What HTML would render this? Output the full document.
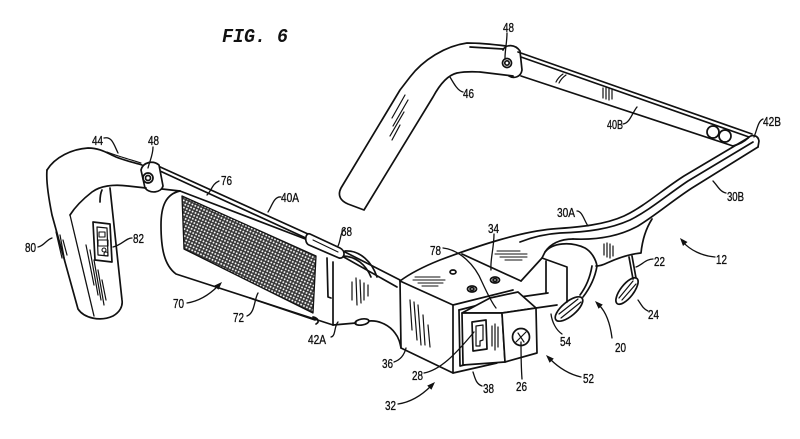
<!DOCTYPE html>
<html><head><meta charset="utf-8"><style>
html,body{margin:0;padding:0;background:#fff;}
svg{display:block}
text{font-family:"Liberation Sans",sans-serif;font-size:13px;fill:#111;stroke:#111;stroke-width:0.35;}
</style></head><body>
<svg width="800" height="439" viewBox="0 0 800 439" xmlns="http://www.w3.org/2000/svg">
<defs>
<pattern id="mesh" width="3.2" height="3.2" patternUnits="userSpaceOnUse" patternTransform="rotate(25)">
<rect width="3.2" height="3.2" fill="#333"/>
<rect x="0.75" y="0.75" width="1.7" height="1.7" fill="#fff"/>
</pattern>
</defs>
<rect width="800" height="439" fill="#fff"/>

<text x="222" y="42" style="font-family:'Liberation Mono',monospace;font-style:italic;font-weight:bold;font-size:19px;stroke:none" textLength="66" lengthAdjust="spacingAndGlyphs">FIG. 6</text>

<g fill="none" stroke="#111" stroke-width="1.7" stroke-linecap="round" stroke-linejoin="round">
<!-- Earpiece 46 -->
<path d="M506,46 C490,44 478,43 467,43 C445,46 423,60 410,77 L400,90 L341,188 C337,196 341,201 348,204 L364,210 L433,97 C440,84 448,75 457,73 C468,71 478,72 480,72 L513,76"/>
<path d="M470,47 L503,49"/>
<path d="M503,50 C506,44 515,44 520,51 L522,70 C521,77 514,79 509,76"/>
<circle cx="507" cy="63" r="4.5"/>
<circle cx="507" cy="63" r="2.2"/>
<path d="M405,95 L392,118 M408,100 L393,126 M404,112 L390,136 M400,125 L392,140" stroke-width="1.2"/>

<!-- Temple 40B -->
<path d="M518,52 L752,134"/>
<path d="M521,57 L749,137"/>
<path d="M521,76 L733,146"/>
<path d="M733,146 C740,144 745,141 748,138"/>
<circle cx="713" cy="132" r="6"/>
<circle cx="725" cy="136" r="6"/>
<path d="M603,88 L603,98 M606,88 L606,99 M609,89 L609,100 M612,90 L612,99" stroke-width="1.2"/>
<path d="M556,82 C558,78 560,76 563,74 M559,83 C561,79 563,77 566,75" stroke-width="1.2"/>

<!-- Front frame 30B/30A -->
<path d="M748,138 C752,134 758,135 759,141 L758,147"/>
<path d="M748,138 L684,176 C662,190 645,206 624,216 C604,225 580,227 552,229 C520,232 480,245 440,260 C420,268 408,275 400,281"/>
<path d="M753,142 L688,181 C667,195 650,210 630,220 C610,229 588,232 560,233 C545,234 530,238 520,242"/>
<path d="M758,147 L692,188 C672,201 656,215 638,226 C618,237 595,240 573,239"/>
<path d="M652,219 C645,230 642,243 641,253 C630,254 618,258 607,263 C603,265 599,266 596,266"/>
<path d="M545,252 C552,243 570,241 585,248 C592,252 596,260 597,266"/>
<path d="M573,239 C560,239 550,244 545,252 L542,258"/>
<path d="M597,266 C595,278 590,288 583,297 M592,266 C590,278 586,287 580,295"/>
<path d="M604,244 L604,255 M607,243 L607,257 M610,244 L610,258 M613,246 L613,256" stroke-width="1.2"/>
<!-- nose pads -->
<path d="M632,256 L636,278 M629,257 L633,279"/>
<ellipse cx="627" cy="291" rx="16" ry="6.5" transform="rotate(-52 627 291)"/>
<path d="M619,298 L633,281 M622,300 L636,284" stroke-width="1.2"/>
<ellipse cx="569" cy="309" rx="17" ry="7" transform="rotate(-40 569 309)"/>
<path d="M559,314 L578,299 M561,318 L581,302" stroke-width="1.2"/>

<!-- Back box -->
<path d="M542,258 L567,267 L567,302"/>
<path d="M546,261 L546,293"/>
<path d="M520,297 L548,293"/>
<path d="M521,281 L542,258"/>
<path d="M462,254 L521,281"/>

<!-- Block -->
<path d="M400,281 L453,305 L513,290"/>
<path d="M400,281 L401,348 L453,373 L453,305"/>
<path d="M453,373 L497,363"/>
<path d="M459,310 L460,366 L497,357"/>
<path d="M459,310 L510,297"/>
<ellipse cx="453" cy="272" rx="3" ry="2"/>
<ellipse cx="472" cy="289" rx="4.5" ry="3"/>
<ellipse cx="472" cy="289" rx="2" ry="1.3"/>
<ellipse cx="495" cy="280" rx="4.5" ry="3"/>
<ellipse cx="495" cy="280" rx="2" ry="1.3"/>
<path d="M415,277 L440,277 M413,280 L445,280 M418,283 L443,283 M422,286 L438,286" stroke-width="1.1"/>
<path d="M497,251 L520,251 M495,254 L527,254 M500,257 L527,257 M505,260 L522,260" stroke-width="1.1"/>
<path d="M410,300 L412,330 M414,302 L417,340 M418,305 L421,345 M423,315 L425,345 M428,325 L430,347" stroke-width="1.2"/>

<!-- Module / camera -->
<path d="M462,313 L490,298 L518,292 L536,308 L502,313 Z" fill="#fff"/>
<path d="M462,313 L502,313 L505,362 L463,365 Z" fill="#fff"/>
<path d="M502,313 L536,308 L537,353 L505,362 Z" fill="#fff"/>
<path d="M472,322 L486,320 L487,349 L473,351 Z"/>
<path d="M476,326 L483,325 L483,340 L480,341 L480,346 L476,346 Z" stroke-width="1.2"/>
<path d="M492,326 L492,346 M495,324 L495,350 M498,327 L498,347" stroke-width="1.2"/>
<circle cx="521" cy="337" r="8.5"/>
<path d="M516,342 L526,332 M518,333 L524,342" stroke-width="1.2"/>
<path d="M536,308 L557,305"/>

<!-- Face plate 42A -->
<path d="M333,262 L333,325"/>
<path d="M327,258 L328,297 L331,298"/>
<path d="M352,282 L352,300 M356,278 L357,305 M360,280 L361,303 M364,283 L364,300 M368,285 L368,296" stroke-width="1.2"/>
<path d="M345,251 C360,250 372,262 377,277"/>
<path d="M342,256 C356,256 366,265 371,277"/>
<path d="M333,325 L356,323"/>
<ellipse cx="362" cy="322" rx="7" ry="3" transform="rotate(-10 362 322)"/>
<path d="M369,321 C380,320 390,326 395,333 C399,338 400,343 401,348"/>

<!-- Display housing 70 -->
<path d="M180,191 L308,240"/>
<path d="M180,191 C166,194 161,206 161,225 C161,248 164,265 176,274 L333,325"/>
<path d="M250,298 L315,320"/>
<path d="M313,317 C318,318 320,322 316,324"/>
<polygon points="182,196 316,256 313,313 184,249" fill="url(#mesh)" stroke-width="1.3"/>

<!-- Bar 40A -->
<path d="M158,166 L308,234"/>
<path d="M160,171 L308,239"/>
<path d="M343,251 L400,280"/>
<path d="M342,256 L397,287"/>
<path d="M310,234 L340,248 C346,251 345,259 339,258 L309,245 C304,243 305,232 310,234 Z" fill="#fff"/>
<path d="M313,240 L338,252" stroke-width="1.1"/>

<!-- Left hinge & earpiece 44 / unit 80 -->
<path d="M141,170 C143,162 153,160 159,165 L163,186 C161,193 150,194 145,188 Z" fill="#fff"/>
<circle cx="148" cy="178" r="5"/>
<circle cx="148" cy="178" r="2.5"/>
<path d="M162,189 L180,191"/>
<path d="M47,170 C55,157 72,149 88,148 C100,148 107,153 116,157 C126,161 136,163 142,165"/>
<path d="M107,152 C120,157 132,160 141,163" stroke-width="1.1"/>
<path d="M146,188 L128,186 C113,184 100,186 92,192 C83,199 75,207 70,215"/>
<path d="M102,190 C100,194 100,198 100,202"/>
<path d="M47,170 C46,180 48,195 52,215 L78,309 C84,318 100,322 113,316 C120,312 123,306 122,300 L110,188"/>
<path d="M70,215 L94,316" stroke-width="1.3"/>
<path d="M56,232 L62,258 M60,235 L65,262 M63,240 L67,255" stroke-width="1.2"/>
<path d="M86,245 L94,285 M90,250 L98,295 M94,260 L101,300 M98,270 L104,305 M102,280 L106,300" stroke-width="1.2"/>
<path d="M93,222 L110,224 L112,262 L95,260 Z"/>
<path d="M97,227 L107,228 L108,256 L98,255 Z" stroke-width="1.2"/>
<rect x="99" y="232" width="6" height="5" stroke-width="1.1"/>
<rect x="98" y="240" width="10" height="6" stroke-width="1.1"/>
<circle cx="104" cy="250" r="2" stroke-width="1.1"/>
<circle cx="106" cy="254" r="2" stroke-width="1.1"/>

<!-- Leaders -->
<g stroke-width="1.3">
<path d="M104,138 C112,136 114,145 118,153"/>
<path d="M153,147 C153,155 150,160 148,168"/>
<path d="M219,181 C212,184 212,190 207,195"/>
<path d="M281,197 C274,196 272,206 268,212"/>
<path d="M345,229 C340,232 341,240 338,246"/>
<path d="M38,247 C44,246 46,240 52,238"/>
<path d="M132,238 C126,238 122,245 113,247"/>
<path d="M247,316 C255,313 254,300 258,293"/>
<path d="M331,337 C336,336 334,326 338,322"/>
<path d="M577,211 C582,211 584,220 588,226"/>
<path d="M494,234 C494,248 490,260 491,270"/>
<path d="M443,248 C460,250 475,265 482,282 C488,295 492,303 496,308"/>
<path d="M562,334 C556,330 552,322 551,314"/>
<path d="M522,379 C521,365 521,352 521,342"/>
<path d="M482,386 C476,384 475,378 473,372"/>
<path d="M424,373 C440,370 455,355 474,332"/>
<path d="M394,362 C400,360 404,356 406,348"/>
<path d="M507,33 C507,42 505,50 505,58"/>
<path d="M463,92 C458,91 454,84 450,77"/>
<path d="M623,124 C630,123 632,113 637,107"/>
<path d="M763,119 C758,121 757,130 754,137"/>
<path d="M726,193 C720,192 717,185 713,181"/>
<path d="M653,259 C646,259 642,265 636,267"/>
<path d="M648,311 C643,309 641,304 638,300"/>
<!-- arrows -->
<path d="M187,303 C200,301 210,294 218,286"/>
<path d="M398,404 C412,402 423,394 431,386"/>
<path d="M581,377 C568,374 557,366 550,359"/>
<path d="M612,338 C610,322 606,312 599,305"/>
<path d="M715,257 C702,256 690,250 683,242"/>
</g>
</g>
<g fill="#111">
<polygon points="222,282 218.4,289.8 214.2,285.6"/>
<polygon points="435,382 431.4,389.8 427.2,385.6"/>
<polygon points="546,355 553.8,358.6 549.6,362.8"/>
<polygon points="595,301 602.8,304.6 598.6,308.8"/>
<polygon points="680,238 687.5,242 683,246"/>
</g>

<g>
<text x="92" y="145" textLength="11" lengthAdjust="spacingAndGlyphs">44</text>
<text x="148" y="145" textLength="11" lengthAdjust="spacingAndGlyphs">48</text>
<text x="221" y="185" textLength="11" lengthAdjust="spacingAndGlyphs">76</text>
<text x="281" y="202" textLength="18" lengthAdjust="spacingAndGlyphs">40A</text>
<text x="341" y="236" textLength="11" lengthAdjust="spacingAndGlyphs">68</text>
<text x="25" y="252" textLength="11" lengthAdjust="spacingAndGlyphs">80</text>
<text x="133" y="243" textLength="11" lengthAdjust="spacingAndGlyphs">82</text>
<text x="173" y="308" textLength="11" lengthAdjust="spacingAndGlyphs">70</text>
<text x="233" y="322" textLength="11" lengthAdjust="spacingAndGlyphs">72</text>
<text x="308" y="344" textLength="18" lengthAdjust="spacingAndGlyphs">42A</text>
<text x="557" y="217" textLength="18" lengthAdjust="spacingAndGlyphs">30A</text>
<text x="488" y="233" textLength="11" lengthAdjust="spacingAndGlyphs">34</text>
<text x="430" y="255" textLength="11" lengthAdjust="spacingAndGlyphs">78</text>
<text x="560" y="346" textLength="11" lengthAdjust="spacingAndGlyphs">54</text>
<text x="516" y="391" textLength="11" lengthAdjust="spacingAndGlyphs">26</text>
<text x="483" y="393" textLength="11" lengthAdjust="spacingAndGlyphs">38</text>
<text x="412" y="380" textLength="11" lengthAdjust="spacingAndGlyphs">28</text>
<text x="382" y="368" textLength="11" lengthAdjust="spacingAndGlyphs">36</text>
<text x="385" y="410" textLength="11" lengthAdjust="spacingAndGlyphs">32</text>
<text x="583" y="383" textLength="11" lengthAdjust="spacingAndGlyphs">52</text>
<text x="615" y="352" textLength="11" lengthAdjust="spacingAndGlyphs">20</text>
<text x="654" y="266" textLength="11" lengthAdjust="spacingAndGlyphs">22</text>
<text x="648" y="319" textLength="11" lengthAdjust="spacingAndGlyphs">24</text>
<text x="716" y="264" textLength="11" lengthAdjust="spacingAndGlyphs">12</text>
<text x="503" y="32" textLength="11" lengthAdjust="spacingAndGlyphs">48</text>
<text x="463" y="98" textLength="11" lengthAdjust="spacingAndGlyphs">46</text>
<text x="607" y="129" textLength="16" lengthAdjust="spacingAndGlyphs">40B</text>
<text x="763" y="126" textLength="18" lengthAdjust="spacingAndGlyphs">42B</text>
<text x="727" y="201" textLength="17" lengthAdjust="spacingAndGlyphs">30B</text>
</g>
</svg>
</body></html>
